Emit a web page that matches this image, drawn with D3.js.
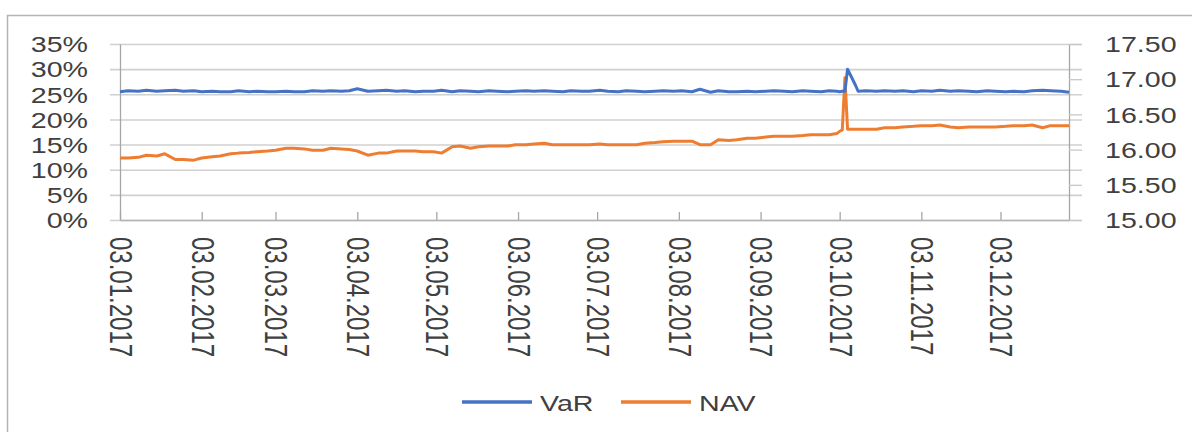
<!DOCTYPE html>
<html>
<head>
<meta charset="utf-8">
<script src="https://cdn.jsdelivr.net/npm/d3@7"></script>
<style>
  html, body { margin: 0; padding: 0; background: #fff; }
  svg { display: block; font-family: "Liberation Sans", Arial, sans-serif; }
</style>
</head>
<body>
<div id="container"></div>
<script>
// sampled dates (2017)
const dates = [
  "2017-01-03","2017-01-06","2017-01-10","2017-01-13","2017-01-17","2017-01-20","2017-01-24","2017-01-27","2017-01-31",
  "2017-02-03","2017-02-07","2017-02-10","2017-02-14","2017-02-17","2017-02-21","2017-02-24","2017-02-28",
  "2017-03-03","2017-03-07","2017-03-10","2017-03-14","2017-03-17","2017-03-21","2017-03-24","2017-03-28","2017-03-31",
  "2017-04-03","2017-04-07","2017-04-11","2017-04-14","2017-04-18","2017-04-21","2017-04-25","2017-04-28",
  "2017-05-02","2017-05-05","2017-05-09","2017-05-12","2017-05-16","2017-05-19","2017-05-23","2017-05-26","2017-05-30",
  "2017-06-02","2017-06-06","2017-06-09","2017-06-13","2017-06-16","2017-06-20","2017-06-23","2017-06-27","2017-06-30",
  "2017-07-04","2017-07-07","2017-07-11","2017-07-14","2017-07-18","2017-07-21","2017-07-25","2017-07-28",
  "2017-08-01","2017-08-04","2017-08-08","2017-08-11","2017-08-15","2017-08-18","2017-08-22","2017-08-25","2017-08-29",
  "2017-09-01","2017-09-05","2017-09-08","2017-09-12","2017-09-15","2017-09-19","2017-09-22","2017-09-26","2017-09-29",
  "2017-10-02","2017-10-03","2017-10-04","2017-10-05","2017-10-06","2017-10-09","2017-10-10","2017-10-13","2017-10-17",
  "2017-10-20","2017-10-24","2017-10-27","2017-10-31",
  "2017-11-03","2017-11-07","2017-11-10","2017-11-14","2017-11-17","2017-11-21","2017-11-24","2017-11-28",
  "2017-12-01","2017-12-05","2017-12-08","2017-12-12","2017-12-15","2017-12-19","2017-12-22","2017-12-26","2017-12-29"
];

// VaR in percent (left axis)
const varValues = [
  25.5,25.7,25.6,25.8,25.6,25.7,25.8,25.6,25.7,
  25.5,25.6,25.5,25.5,25.7,25.5,25.6,25.5,
  25.5,25.6,25.5,25.5,25.7,25.6,25.7,25.6,25.7,
  26.1,25.6,25.7,25.8,25.6,25.7,25.5,25.6,
  25.6,25.8,25.5,25.7,25.6,25.5,25.7,25.6,25.5,
  25.6,25.7,25.6,25.7,25.6,25.5,25.7,25.6,25.6,
  25.8,25.6,25.5,25.7,25.6,25.5,25.6,25.7,
  25.6,25.7,25.5,26.0,25.4,25.7,25.5,25.5,25.6,
  25.5,25.6,25.7,25.6,25.5,25.7,25.6,25.5,25.7,
  25.6,25.5,25.6,25.6,30.0,26.8,25.6,25.7,25.6,
  25.7,25.6,25.7,25.5,
  25.7,25.6,25.8,25.6,25.7,25.6,25.5,25.7,
  25.6,25.5,25.6,25.5,25.7,25.8,25.7,25.6,25.4
];

// NAV (right axis)
const navValues = [
  15.88,15.88,15.89,15.92,15.91,15.94,15.86,15.86,15.85,
  15.88,15.90,15.91,15.94,15.95,15.96,15.97,15.98,
  15.99,16.02,16.02,16.01,15.99,15.99,16.02,16.01,16.00,
  15.98,15.92,15.95,15.95,15.98,15.98,15.98,15.97,
  15.97,15.95,16.04,16.05,16.02,16.04,16.05,16.05,16.05,
  16.07,16.07,16.08,16.09,16.07,16.07,16.07,16.07,16.07,
  16.08,16.07,16.07,16.07,16.07,16.09,16.10,16.11,
  16.12,16.12,16.12,16.07,16.07,16.14,16.13,16.14,16.16,
  16.16,16.18,16.19,16.19,16.19,16.20,16.21,16.21,16.21,
  16.23,16.26,16.28,17.02,16.29,16.29,16.29,16.29,16.29,
  16.31,16.31,16.32,16.33,
  16.34,16.34,16.35,16.32,16.31,16.32,16.32,16.32,
  16.32,16.33,16.34,16.34,16.35,16.31,16.34,16.34,16.34
];

const leftTicks = [0, 5, 10, 15, 20, 25, 30, 35];
const rightTicks = [15.0, 15.5, 16.0, 16.5, 17.0, 17.5];
const monthTicks = ["2017-01-03","2017-02-03","2017-03-03","2017-04-03","2017-05-03","2017-06-03",
  "2017-07-03","2017-08-03","2017-09-03","2017-10-03","2017-11-03","2017-12-03"];
const seriesNames = ["VaR", "NAV"];
const colors = ["#4472C4", "#ED7D31"];

const W = 1192, H = 432;
const plot = { left: 120, right: 1069, top: 44, bottom: 220 };
const textColor = "#404040";
const stretch = "scale(1.3,1)";

const parse = d3.timeParse("%Y-%m-%d");
const fmtDate = d3.timeFormat("%d.%m.%Y");

const x = d3.scaleTime()
  .domain([parse(dates[0]), parse(dates[dates.length - 1])])
  .range([plot.left, plot.right]);
const yLeft = d3.scaleLinear().domain([0, 35]).range([plot.bottom, plot.top]);
const yRight = d3.scaleLinear().domain([15, 17.5]).range([plot.bottom, plot.top]);

const svg = d3.select("#container").append("svg")
  .attr("width", W).attr("height", H);

// chart area border
svg.append("rect")
  .attr("x", 7.5).attr("y", 15.5)
  .attr("width", 1300).attr("height", 600)
  .attr("fill", "none").attr("stroke", "#b4b4b4").attr("stroke-width", 1.5);

// horizontal gridlines
const grid = svg.append("g")
  .attr("transform", `translate(${plot.left - 10},0)`)
  .call(d3.axisLeft(yLeft).tickValues(leftTicks).tickSize(-(plot.right + 13 - plot.left + 10)).tickFormat(""));
grid.select(".domain").remove();
grid.selectAll("line").attr("stroke", "#d0d0d0").attr("stroke-width", 1.6);

// left axis
const gl = svg.append("g")
  .attr("transform", `translate(${plot.left},0)`)
  .call(d3.axisLeft(yLeft).tickValues(leftTicks).tickSize(0).tickSizeOuter(0).tickFormat(d => d + "%"));
gl.select(".domain").attr("stroke", "#a6a6a6").attr("stroke-width", 1.3);
gl.selectAll("text")
  .attr("x", null).attr("dy", null)
  .attr("fill", textColor).attr("font-size", 22)
  .attr("text-anchor", "end").attr("dominant-baseline", "central")
  .attr("transform", `translate(-32,0) ${stretch}`);

// right axis
const gr = svg.append("g")
  .attr("transform", `translate(${plot.right},0)`)
  .call(d3.axisRight(yRight).tickValues(rightTicks).tickSize(13).tickSizeOuter(0).tickFormat(d3.format(".2f")));
gr.select(".domain").attr("stroke", "#a6a6a6").attr("stroke-width", 1.3);
gr.selectAll("line").attr("stroke", "#c8c8c8").attr("stroke-width", 1.3);
gr.selectAll("text")
  .attr("x", null).attr("dy", null)
  .attr("fill", textColor).attr("font-size", 22)
  .attr("text-anchor", "start").attr("dominant-baseline", "central")
  .attr("transform", `translate(36,0) ${stretch}`);

// bottom axis
const gx = svg.append("g")
  .attr("transform", `translate(0,${plot.bottom})`)
  .call(d3.axisBottom(x).tickValues(monthTicks.map(parse)).tickSize(-8).tickSizeOuter(0).tickFormat(fmtDate));
gx.select(".domain").attr("stroke", "#b4b4b4").attr("stroke-width", 1.3);
gx.selectAll("line").attr("stroke", "#a6a6a6").attr("stroke-width", 1.3);
gx.selectAll("text")
  .attr("y", null).attr("dy", null)
  .attr("fill", textColor).attr("font-size", 24)
  .attr("text-anchor", "start").attr("dominant-baseline", "central")
  .attr("transform", `translate(0,17) ${stretch} rotate(90)`);

// series
const rows = dates.map((d, i) => ({ date: parse(d), v: varValues[i], n: navValues[i] }));

svg.append("path").datum(rows)
  .attr("fill", "none").attr("stroke", colors[1]).attr("stroke-width", 3)
  .attr("stroke-linejoin", "round")
  .attr("d", d3.line().x(d => x(d.date)).y(d => yRight(d.n)));

svg.append("path").datum(rows)
  .attr("fill", "none").attr("stroke", colors[0]).attr("stroke-width", 3)
  .attr("stroke-linejoin", "round")
  .attr("d", d3.line().x(d => x(d.date)).y(d => yLeft(d.v)));

// legend
const legendX = [462, 621];
const legend = svg.append("g");
seriesNames.forEach((name, i) => {
  legend.append("line")
    .attr("x1", legendX[i]).attr("x2", legendX[i] + 70)
    .attr("y1", 402).attr("y2", 402)
    .attr("stroke", colors[i]).attr("stroke-width", 3.5);
  legend.append("text")
    .attr("transform", `translate(${legendX[i] + 78},403) ${stretch}`)
    .attr("dominant-baseline", "central")
    .attr("font-size", 22).attr("fill", textColor)
    .text(name);
});
</script>
</body>
</html>
